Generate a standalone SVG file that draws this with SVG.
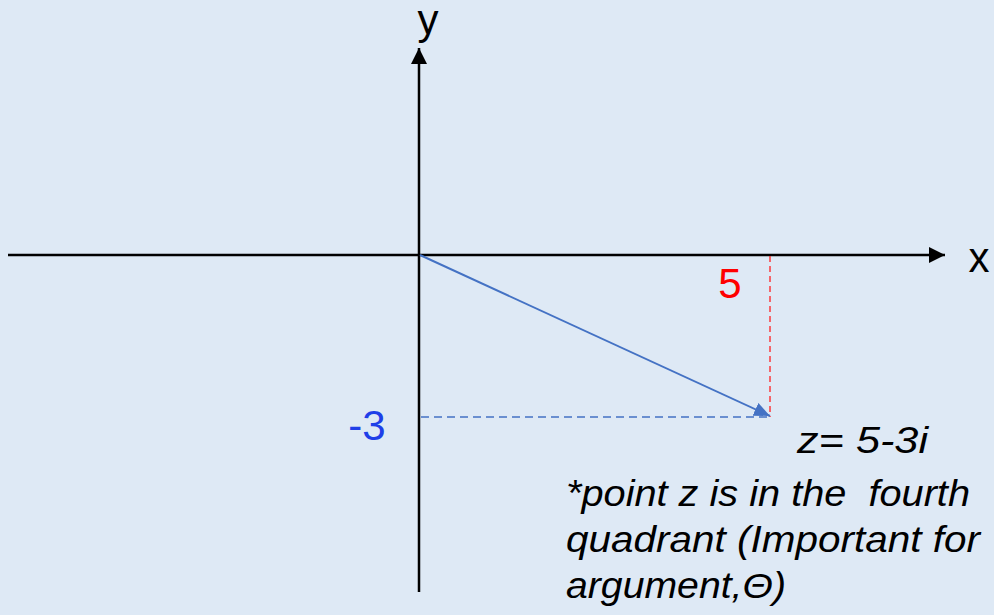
<svg xmlns="http://www.w3.org/2000/svg" width="994" height="615" viewBox="0 0 994 615">
<style>
.lbl{font-family:"Liberation Sans","DejaVu Sans",sans-serif;font-size:42px}
.it{font-family:"Liberation Sans","DejaVu Sans",sans-serif;font-size:36px;font-style:italic;fill:#000}
</style>
<defs>
<marker id="ab" markerWidth="16" markerHeight="16" refX="16" refY="8" orient="auto" markerUnits="userSpaceOnUse"><path d="M0,0 L16,8 L0,16 Z" fill="#000"/></marker>
<marker id="abb" markerWidth="16" markerHeight="14" refX="16" refY="7" orient="auto" markerUnits="userSpaceOnUse"><path d="M0,0 L16,7 L0,14 Z" fill="#4472c4"/></marker>
</defs>
<rect width="994" height="615" fill="#dee9f5"/>
<g id="connectors">
<line x1="8" y1="255" x2="945" y2="255" stroke="#000" stroke-width="2.5" marker-end="url(#ab)"/>
<line x1="419" y1="592" x2="419" y2="48" stroke="#000" stroke-width="2.5" marker-end="url(#ab)"/>
<line x1="770" y1="256" x2="770" y2="417" stroke="#ff2020" stroke-width="1.3" stroke-dasharray="6,4"/>
<line x1="421" y1="417" x2="770" y2="417" stroke="#4472c4" stroke-width="1.3" stroke-dasharray="8,5"/>
<line x1="420" y1="255" x2="770" y2="416" stroke="#4472c4" stroke-width="2" marker-end="url(#abb)"/>
</g>
<g id="axis-y"><text class="lbl" x="428" y="34" text-anchor="middle">y</text></g>
<g id="axis-x"><text class="lbl" x="979" y="272" text-anchor="middle">x</text></g>
<g id="label-5"><text class="lbl" x="730" y="298" text-anchor="middle" fill="#ff0000">5</text></g>
<g id="label-m3"><text class="lbl" x="367" y="440" text-anchor="middle" fill="#1f3fe8">-3</text></g>
<g id="note">
<text class="it" x="797" y="453" textLength="131" lengthAdjust="spacingAndGlyphs">z= 5-3i</text>
<text class="it" x="566" y="506" textLength="404" lengthAdjust="spacingAndGlyphs" xml:space="preserve">*point z is in the  fourth</text>
<text class="it" x="566" y="552" textLength="414" lengthAdjust="spacingAndGlyphs">quadrant (Important for</text>
<text class="it" x="566" y="598" textLength="220" lengthAdjust="spacingAndGlyphs">argument,Θ)</text>
</g>
</svg>
